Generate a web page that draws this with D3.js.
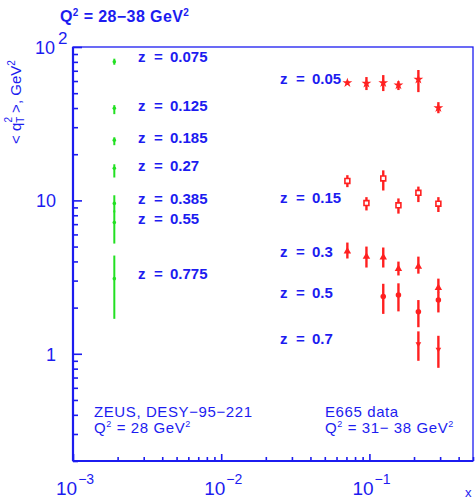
<!DOCTYPE html>
<html>
<head>
<meta charset="utf-8">
<script src="https://cdn.jsdelivr.net/npm/d3@7"></script>
<style>
  body { margin: 0; background: #fff; }
  text { font-family: "Liberation Sans", Arial, sans-serif; fill: #1c1cf0; }
</style>
</head>
<body>
<svg id="chart" width="475" height="499"></svg>
<script>
// ZEUS (green), x ~ 0.0019, Q2 = 28 GeV2
const zeusX = 0.0019;
const zeusZ = ['0.075', '0.125', '0.185', '0.27', '0.385', '0.55', '0.775'];
const zeusY = [80.2, 39.9, 24.7, 16.2, 9.56, 7.18, 3.09];
const zeusLo = [76.6, 36.5, 22.9, 14.1, 8.35, 5.23, 1.69];
const zeusHi = [83.9, 41.8, 25.8, 17.2, 10.8, 8.6, 4.37];
const zeusLabelY = [86.0, 41.2, 25.5, 16.8, 10.2, 7.57, 3.31];

// E665 (red), Q2 = 31-38 GeV2
const e665X = [0.071, 0.0955, 0.124, 0.157, 0.214, 0.292];
const e665Z = ['0.05', '0.15', '0.3', '0.5', '0.7'];
const e665Sym = ['star', 'square', 'triangle', 'circle', 'tdown'];
const e665Y = [
  [58.4, 57.9, 58.4, 56.5, 61.5, 40.1],
  [13.4, 9.6, 13.9, 9.28, 11.2, 9.52],
  [4.66, 4.30, 4.26, 3.58, 3.70, 2.69],
  [null, null, 2.36, 2.42, 1.88, 2.24],
  [null, null, null, null, 1.16, 1.07]
];
const e665Lo = [
  [56.7, 52.4, 51.6, 52.4, 50.8, 37.0],
  [12.2, 8.6, 11.6, 8.2, 9.75, 8.4],
  [4.18, 3.65, 3.65, 3.24, 3.33, 2.50],
  [null, null, 1.82, 1.89, 1.49, 1.86],
  [null, null, null, null, 0.90, 0.81]
];
const e665Hi = [
  [60.2, 63.7, 65.6, 59.9, 70.8, 43.7],
  [14.6, 10.5, 15.7, 10.3, 12.3, 10.5],
  [5.31, 5.0, 4.93, 3.99, 4.30, 3.09],
  [null, null, 2.86, 2.88, 2.24, 2.52],
  [null, null, null, null, 1.40, 1.31]
];
const e665LabelY = [61.9, 10.4, 4.61, 2.49, 1.25];

const xMajor = [0.001, 0.01, 0.1];
const xExp = ['-3', '-2', '-1'];
const yMajor = [1, 10, 100];

const blue = '#1c1cf0', green = '#22e022', red = '#ff2020';
const svg = d3.select('#chart');
const pL = 73, pR = 473, pT = 47, pB = 461;

const x = d3.scaleLog().domain([0.001, 0.5]).range([pL, pR]);
const y = d3.scaleLog().domain([0.2, 100]).range([pB, pT]);

// frame
svg.append('rect')
  .attr('x', pL).attr('y', pT)
  .attr('width', pR - pL).attr('height', pB - pT)
  .attr('fill', 'none').attr('stroke', blue).attr('stroke-width', 1.3);

// minor ticks
const xMinor = [];
[0.001, 0.01, 0.1].forEach(d => { for (let k = 2; k <= 9; k++) if (d * k <= 0.5) xMinor.push(d * k); });
const yMinor = [];
[0.1, 1, 10].forEach(d => { for (let k = 2; k <= 9; k++) if (d * k >= 0.2 && d * k < 100) yMinor.push(d * k); });

function styleAxis(g) {
  g.select('.domain').remove();
  g.selectAll('line').attr('stroke', blue).attr('stroke-width', 1.6);
  g.selectAll('text').remove();
}

svg.append('g').attr('transform', `translate(0,${pB})`)
  .call(d3.axisBottom(x).tickValues(xMinor).tickSize(-4)).call(styleAxis);
svg.append('g').attr('transform', `translate(0,${pB})`)
  .call(d3.axisBottom(x).tickValues(xMajor).tickSize(-7)).call(styleAxis);
svg.append('g').attr('transform', `translate(${pL},0)`)
  .call(d3.axisLeft(y).tickValues(yMinor).tickSize(-5)).call(styleAxis);
svg.append('g').attr('transform', `translate(${pL},0)`)
  .call(d3.axisLeft(y).tickValues(yMajor).tickSize(-9)).call(styleAxis);

// thicker left and bottom lines
svg.append('line').attr('x1', pL).attr('x2', pL).attr('y1', pT).attr('y2', pB)
  .attr('stroke', blue).attr('stroke-width', 2.2);
svg.append('line').attr('x1', pL).attr('x2', pR).attr('y1', pB).attr('y2', pB)
  .attr('stroke', blue).attr('stroke-width', 2.2);

// x tick labels
xMajor.forEach((d, i) => {
  const t = svg.append('text').attr('x', x(d) - 17).attr('y', 495)
    .style('font-size', '19px');
  t.append('tspan').text('10');
  t.append('tspan').attr('dx', 1).attr('dy', -11).style('font-size', '14px')
    .text(xExp[i].replace('-', '\u2212'));
});
svg.append('text').attr('x', 465).attr('y', 497).style('font-size', '13px').text('x');

// y tick labels
yMajor.forEach(d => {
  const t = svg.append('text').attr('y', y(d) + 7).style('font-size', '18px');
  if (d === 100) {
    t.attr('x', 35);
    t.append('tspan').text('10');
    t.append('tspan').attr('dx', 3).attr('dy', -10).style('font-size', '17px').text('2');
  } else {
    t.attr('x', 56).attr('text-anchor', 'end').text(d);
  }
});

// y axis title
const yt = svg.append('text')
  .attr('transform', 'translate(21,144) rotate(-90)')
  .style('font-size', '15px');
yt.append('tspan').text('< q');
yt.append('tspan').attr('dy', 3).style('font-size', '10px').text('T');
yt.append('tspan').attr('dx', -6).attr('dy', -12).style('font-size', '10px').text('2');
yt.append('tspan').attr('dy', 9).text('  >, GeV');
yt.append('tspan').attr('dy', -6).style('font-size', '10px').text('2');

// title
const tt = svg.append('text').attr('x', 60).attr('y', 22)
  .style('font-size', '16px').style('font-weight', 'bold').style('letter-spacing', '0.4px');
tt.append('tspan').text('Q');
tt.append('tspan').attr('dy', -6).style('font-size', '10px').text('2');
tt.append('tspan').attr('dy', 6).text(' = 28\u221238 GeV');
tt.append('tspan').attr('dy', -6).style('font-size', '10px').text('2');

// z label: "z", "=", value spaced like the original
function zLabel(xp, v, txt) {
  const t = svg.append('text').attr('x', xp).attr('y', y(v) + 5)
    .style('font-size', '15px').style('font-weight', 'bold');
  t.append('tspan').text('z');
  t.append('tspan').attr('x', xp + 16).text('=');
  t.append('tspan').attr('x', xp + 32).text(txt);
}

// ZEUS points
zeusY.forEach((v, i) => {
  svg.append('line')
    .attr('x1', x(zeusX)).attr('x2', x(zeusX))
    .attr('y1', y(zeusLo[i])).attr('y2', y(zeusHi[i]))
    .attr('stroke', green).attr('stroke-width', 2);
  svg.append('circle').attr('cx', x(zeusX)).attr('cy', y(v)).attr('r', 1.8).attr('fill', green);
  zLabel(138, zeusLabelY[i], zeusZ[i]);
});

// E665 points
const symType = {
  star: d3.symbolStar, square: d3.symbolSquare, triangle: d3.symbolTriangle,
  circle: d3.symbolCircle, tdown: d3.symbolTriangle
};
e665Y.forEach((row, s) => {
  row.forEach((v, i) => {
    if (v === null) return;
    const cx = x(e665X[i]), cy = y(v);
    svg.append('line').attr('x1', cx).attr('x2', cx)
      .attr('y1', y(e665Lo[s][i])).attr('y2', y(e665Hi[s][i]))
      .attr('stroke', red).attr('stroke-width', 2.4);
    const sym = e665Sym[s];
    const p = svg.append('path')
      .attr('d', d3.symbol().type(symType[sym]).size(sym === 'star' ? 30 : sym === 'tdown' ? 14 : 24)())
      .attr('transform', `translate(${cx},${cy})` + (sym === 'tdown' ? ' rotate(180)' : ''));
    if (sym === 'square') {
      p.attr('fill', '#fff').attr('stroke', red).attr('stroke-width', 1.6);
    } else {
      p.attr('fill', red);
    }
  });
  zLabel(280, e665LabelY[s], e665Z[s]);
});

// bottom annotations
function note(xp, yp, parts) {
  const t = svg.append('text').attr('x', xp).attr('y', yp)
    .style('font-size', '15px').style('letter-spacing', '0.6px');
  parts.forEach(p => {
    t.append('tspan').attr('dy', p[1] || 0).style('font-size', p[2] || null).text(p[0]);
  });
}
note(94, 417, [['ZEUS, DESY\u221295\u2212221']]);
note(94, 433, [['Q'], ['2', -6, '9px'], [' = 28 GeV', 6], ['2', -6, '9px']]);
note(325, 417, [['E665 data']]);
note(325, 433, [['Q'], ['2', -6, '9px'], [' = 31\u2212 38 GeV', 6], ['2', -6, '9px']]);
</script>
</body>
</html>
